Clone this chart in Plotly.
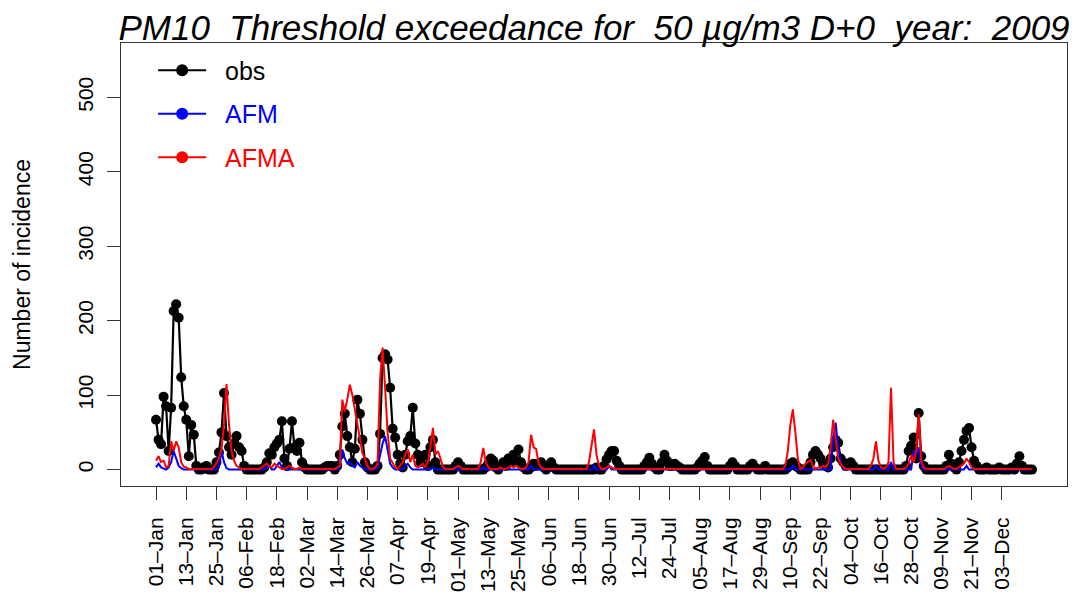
import plotly.graph_objects as go

# ---------------- data (daily, 01-Jan .. 15-Dec 2009) ----------------
obs_chunks = [
    [67, 40, 34, 98, 85, 25, 83, 213, 222, 204, 124, 85],
    [67, 18, 60, 47, 5, 0, 0, 3, 5, 0, 0, 0],
    [10, 23, 50, 103, 45, 30, 20, 35, 45, 30, 25, 5],
    [0, 0, 0, 0, 0, 0, 0, 3, 10, 22, 20, 30],
    [35, 40, 65, 15, 5, 28, 65, 30, 25, 36, 10, 3],
    [0, 0, 0, 0, 0, 0, 0, 3, 5, 5, 5, 0],
    [5, 20, 58, 75, 45, 30, 10, 28, 94, 75, 40, 10],
    [3, 0, 0, 0, 5, 48, 150, 155, 148, 110, 55, 43],
    [20, 8, 3, 20, 38, 45, 83, 35, 20, 10, 18, 20],
    [5, 30, 40, 10, 0, 0, 0, 0, 0, 0, 0, 5],
    [10, 5, 0, 0, 0, 0, 0, 0, 0, 0, 0, 3],
    [8, 15, 12, 3, 0, 5, 10, 5, 15, 10, 20, 12],
    [27, 10, 3, 0, 0, 3, 8, 5, 8, 10, 3, 0],
    [5, 10, 3, 0, 0, 0, 0, 0, 0, 0, 0, 0],
    [0, 0, 0, 0, 0, 0, 0, 3, 0, 0, 5, 14],
    [20, 25, 25, 12, 5, 0, 0, 0, 0, 0, 0, 0],
    [0, 0, 5, 10, 16, 8, 3, 0, 0, 10, 20, 12],
    [5, 5, 8, 5, 3, 0, 0, 0, 0, 0, 0, 3],
    [8, 12, 17, 5, 0, 0, 0, 0, 0, 0, 0, 0],
    [5, 10, 5, 0, 0, 0, 0, 0, 5, 8, 3, 0],
    [0, 0, 5, 0, 0, 0, 0, 0, 0, 0, 0, 3],
    [8, 10, 5, 3, 0, 0, 0, 0, 10, 20, 25, 20],
    [15, 8, 5, 3, 15, 30, 40, 36, 15, 10, 5, 8],
    [10, 5, 0, 0, 0, 0, 0, 0, 0, 0, 0, 0],
    [0, 0, 0, 0, 0, 0, 0, 0, 0, 0, 5, 25],
    [32, 43, 15, 76, 18, 5, 0, 0, 0, 0, 0, 0],
    [0, 0, 5, 20, 8, 3, 0, 10, 25, 40, 52, 56],
    [30, 12, 5, 0, 0, 0, 3, 0, 0, 0, 0, 3],
    [0, 0, 0, 0, 3, 0, 8, 18, 5, 0, 0, 0],
    [0],
]

afm_chunks = [
    [3, 8, 3, 2, 0, 3, 10, 25, 15, 5, 2, 0],
    [0, 0, 0, 0, 0, 0, 0, 0, 0, 0, 0, 0],
    [0, 3, 25, 10, 2, 0, 0, 0, 0, 0, 0, 0],
    [0, 0, 0, 0, 0, 0, 0, 0, 3, 5, 0, 0],
    [5, 10, 3, 0, 0, 0, 0, 0, 0, 0, 0, 0],
    [0, 0, 0, 0, 0, 0, 0, 0, 0, 0, 0, 0],
    [0, 3, 27, 15, 8, 10, 5, 3, 10, 5, 2, 0],
    [0, 0, 0, 0, 3, 20, 35, 45, 25, 8, 3, 0],
    [0, 0, 0, 5, 8, 3, 0, 0, 0, 0, 0, 0],
    [0, 0, 3, 0, 0, 0, 0, 0, 0, 0, 0, 0],
    [0, 0, 0, 0, 0, 0, 0, 0, 0, 0, 3, 0],
    [0, 0, 0, 0, 0, 0, 0, 0, 0, 0, 0, 0],
    [0, 0, 0, 0, 0, 5, 0, 0, 0, 0, 0, 0],
    [0, 0, 0, 0, 0, 0, 0, 0, 0, 0, 0, 0],
    [0, 0, 0, 0, 0, 0, 5, 0, 0, 0, 0, 0],
    [5, 0, 0, 0, 0, 0, 0, 0, 0, 0, 0, 0],
    [0, 0, 0, 0, 0, 0, 0, 0, 0, 0, 0, 0],
    [0, 0, 0, 0, 0, 0, 0, 0, 0, 0, 0, 0],
    [0, 0, 0, 0, 0, 0, 0, 0, 0, 0, 0, 0],
    [0, 0, 0, 0, 0, 0, 0, 0, 0, 0, 0, 0],
    [0, 0, 0, 0, 0, 0, 0, 0, 0, 0, 0, 0],
    [0, 5, 0, 0, 0, 0, 0, 0, 0, 0, 0, 0],
    [0, 0, 0, 0, 0, 40, 63, 30, 10, 0, 0, 0],
    [0, 0, 0, 0, 0, 0, 0, 0, 0, 0, 5, 0],
    [0, 0, 0, 0, 10, 0, 0, 0, 0, 0, 0, 0],
    [0, 25, 20, 30, 5, 0, 0, 0, 0, 0, 0, 0],
    [0, 0, 0, 0, 0, 0, 0, 0, 0, 0, 5, 0],
    [0, 0, 0, 0, 0, 0, 0, 0, 0, 0, 0, 0],
    [0, 0, 0, 0, 0, 0, 0, 0, 0, 0, 0, 0],
    [0],
]

afma_chunks = [
    [12, 18, 10, 12, 3, 5, 38, 25, 38, 30, 10, 4],
    [3, 1, 1, 1, 1, 1, 1, 1, 1, 1, 1, 3],
    [10, 15, 28, 60, 115, 60, 25, 12, 5, 3, 1, 1],
    [1, 1, 1, 1, 1, 1, 3, 5, 8, 5, 3, 8],
    [5, 3, 1, 1, 3, 5, 3, 1, 1, 3, 1, 1],
    [1, 1, 1, 1, 1, 1, 1, 1, 1, 1, 1, 1],
    [3, 5, 94, 78, 95, 114, 100, 80, 60, 40, 22, 15],
    [5, 1, 1, 3, 8, 120, 164, 110, 50, 15, 8, 3],
    [1, 5, 10, 20, 27, 10, 20, 5, 3, 5, 8, 3],
    [10, 30, 56, 20, 25, 15, 3, 1, 1, 1, 1, 3],
    [5, 3, 1, 1, 1, 1, 1, 1, 1, 10, 29, 10],
    [3, 1, 1, 1, 1, 3, 1, 1, 3, 5, 3, 5],
    [3, 1, 1, 3, 10, 47, 30, 28, 8, 3, 1, 1],
    [1, 1, 1, 1, 1, 1, 1, 1, 1, 1, 1, 1],
    [1, 1, 1, 1, 10, 30, 54, 20, 5, 1, 1, 3],
    [5, 3, 1, 1, 1, 1, 1, 1, 1, 1, 1, 1],
    [1, 1, 1, 1, 1, 1, 1, 1, 1, 1, 1, 1],
    [1, 1, 1, 1, 1, 1, 1, 1, 1, 1, 1, 1],
    [1, 1, 1, 1, 1, 1, 1, 1, 1, 1, 1, 1],
    [1, 1, 1, 1, 1, 1, 1, 1, 1, 1, 1, 1],
    [1, 1, 1, 1, 1, 1, 1, 1, 1, 1, 5, 25],
    [60, 81, 50, 14, 1, 3, 8, 10, 13, 5, 1, 3],
    [3, 5, 3, 8, 30, 67, 40, 15, 8, 3, 1, 1],
    [1, 1, 1, 1, 1, 1, 1, 1, 5, 15, 38, 12],
    [3, 1, 3, 10, 110, 10, 1, 1, 1, 1, 3, 8],
    [20, 10, 25, 75, 12, 3, 1, 1, 1, 1, 1, 1],
    [1, 1, 3, 5, 3, 1, 1, 3, 5, 8, 15, 10],
    [3, 1, 1, 1, 1, 1, 1, 1, 1, 1, 1, 1],
    [1, 1, 1, 1, 1, 1, 1, 1, 1, 1, 1, 1],
    [1],
]

obs = [v for c in obs_chunks for v in c]
afm = [v for c in afm_chunks for v in c]
afma = [v for c in afma_chunks for v in c]
days = list(range(len(obs)))

tick_days = [0, 12, 24, 36, 48, 60, 72, 84, 96, 108, 120, 132, 144, 156, 168,
             180, 192, 204, 216, 228, 240, 252, 264, 276, 288, 300, 312, 324, 336]
tick_labels = ["01–Jan", "13–Jan", "25–Jan", "06–Feb", "18–Feb", "02–Mar", "14–Mar",
               "26–Mar", "07–Apr", "19–Apr", "01–May", "13–May", "25–May", "06–Jun",
               "18–Jun", "30–Jun", "12–Jul", "24–Jul", "05–Aug", "17–Aug", "29–Aug",
               "10–Sep", "22–Sep", "04–Oct", "16–Oct", "28–Oct", "09–Nov", "21–Nov",
               "03–Dec"]
y_ticks = [0, 100, 200, 300, 400, 500]

FONT = "Liberation Sans, Arial, Helvetica, sans-serif"

fig = go.Figure()
fig.add_trace(go.Scatter(x=days, y=obs, mode="lines+markers", showlegend=False,
                         line=dict(color="black", width=2.2),
                         marker=dict(color="black", size=10)))
fig.add_trace(go.Scatter(x=days, y=afm, mode="lines", showlegend=False,
                         line=dict(color="#0000FF", width=2)))
fig.add_trace(go.Scatter(x=days, y=afma, mode="lines", showlegend=False,
                         line=dict(color="#FF0000", width=2)))

# legend entries
for name, col, grp in [("obs", "black", "a"), ("AFM", "#0000FF", "b"), ("AFMA", "#FF0000", "c")]:
    fig.add_trace(go.Scatter(x=[None], y=[None], mode="lines+markers",
                             name=f"<span style='color:{col}'>\u00a0\u00a0{name}</span>",
                             legendgroup=grp,
                             line=dict(color=col, width=2),
                             marker=dict(color=col, size=12)))

n = len(obs) - 1
pad = 0.04 * n
fig.update_layout(
    width=1076, height=595,
    margin=dict(l=121, r=9, t=43, b=109),
    paper_bgcolor="white", plot_bgcolor="white",
    font=dict(family=FONT, size=21, color="black"),
    title=dict(text="<i>PM10\u00a0\u00a0Threshold exceedance for\u00a0\u00a050 µg/m3 D+0\u00a0\u00a0year:\u00a0\u00a02009</i>",
               x=0.5, xref="paper", xanchor="center",
               y=1 - 28 / 595, yref="container", yanchor="middle",
               font=dict(family=FONT, size=35, color="black")),
    showlegend=True,
    legend=dict(x=0.034, y=0.99, xanchor="left", yanchor="top",
                bgcolor="rgba(0,0,0,0)", borderwidth=0,
                font=dict(family=FONT, size=25),
                tracegroupgap=8, itemwidth=48, traceorder="grouped"),
    xaxis=dict(range=[-pad, n + pad], tickmode="array", tickvals=tick_days,
               ticktext=tick_labels, tickangle=-90, ticks="outside", ticklen=13,
               tickcolor="#333", showline=True, linecolor="#333", linewidth=1,
               mirror=True, showgrid=False, zeroline=False, automargin=False,
               ticklabelstandoff=9, tickfont=dict(size=21)),
    yaxis=dict(range=[-22, 573], tickmode="array", tickvals=y_ticks,
               tickangle=-90, ticks="outside", ticklen=13, tickcolor="#333",
               showline=True, linecolor="#333", linewidth=1, mirror=True,
               showgrid=False, zeroline=False, tickfont=dict(size=21),
               ticklabelstandoff=6, automargin=False,
               title=dict(text="Number of incidence", font=dict(size=23), standoff=36)),
)

fig.write_html("out.html")
